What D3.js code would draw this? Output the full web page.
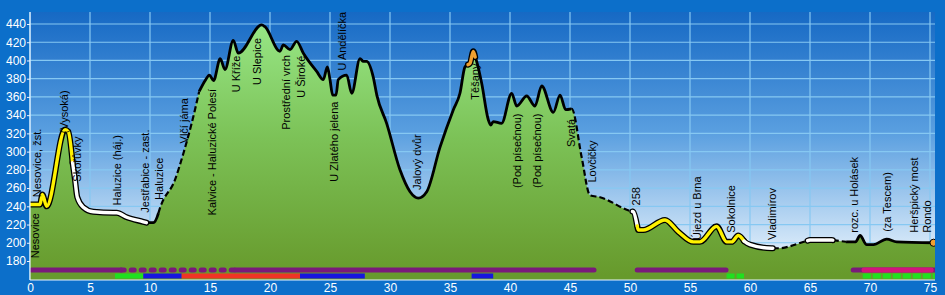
<!DOCTYPE html>
<html>
<head>
<meta charset="utf-8">
<script src="https://cdn.jsdelivr.net/npm/d3@7"></script>
<style>
body{margin:0;background:#0c6fca;overflow:hidden;}
svg{display:block;font-family:"Liberation Sans",Arial,sans-serif;}
</style>
</head>
<body>
<div id="profile"></div>
<script>
// route profile, km / metres
var km   = [0,0.83,1.03,1.39,2.92,3.19,3.75,3.94,4.44,5.28,6.94,7.22,8.06,9.44,9.72,10.28,10.69,10.83,12.08,12.78,13.47,14.1,14.6,14.95,15.3,15.85,16.25,16.94,17.36,19.31,19.58,20.83,21.11,21.67,22.22,22.78,23.89,24.44,24.78,25.0,25.22,25.5,25.69,26.39,26.81,27.5,27.78,28.06,28.6,28.9,29.72,30.83,31.67,32.36,33.06,34.17,35.28,35.83,36.25,36.67,36.94,37.22,37.64,38.19,38.39,38.6,39.3,40.14,40.56,41.39,42.08,42.64,43.61,44.17,44.64,45.14,45.97,46.67,47.5,50.0,50.28,50.69,51.1,52.92,54.03,55.28,55.83,57.22,58.06,58.47,59.03,59.58,60.0,61.8,62.36,64.72,65.0,66.8,68.06,68.8,69.17,69.72,70.28,71.39,72.22,75.3];
var elev = [242,242,253,240,324,322,269,250,239,234,233,233,228,223,222,222,232,238,269,298,331,366,378,384,378,402,390,422,408,439,437,410,417,412,421,408,388,379,393,379,362,362,379,384,364,402,399,399,382,362,331,280,256,249,256,305,346,364,393,397,410,399,375,335,329,333,331,364,350,361,350,372,343,362,346,347,294,252,250,235,234,214,214,225,212,201,201,218,201,201,208,201,198,194,194,202,203,203,201,201,208,198,198,204,201,200];

// how each stretch of the line is marked
var segFrom = [0,3.55,9.7,10.7,14.1,36.5,37.1,45.1,50.2,50.6,59.5,61.9,64.8,66.9,68.0];
var segTo   = [3.55,9.7,10.7,14.1,36.5,37.1,45.1,50.2,50.6,59.5,61.9,64.8,66.9,68.0,75.3];
var segType = ["yellow","white","solid","dash","solid","orange","solid","dash","white","yellow","white","dash","white","dash","solid"];

// place names
var names = ["Nesovice","Nesovice, žst.","(Vysoká)","Skořůvky","Haluzice (háj.)","Jestřabice - zast.","Haluzice","Vlčí jáma","Kalvice - Haluzické Polesí","U Kříže","U Slepice","Prostřední vrch","U Široké","U Zlatého jelena","U Andělíčka","Jalový dvůr","Těšany","(Pod písečnou)","(Pod písečnou)","Svatá","Lovčičky","258","Újezd u Brna","Sokolnice","Vladimírov","rozc. u Holásek","(za Tescem)","Heršpický most","Rondo"];
var nameKm   = [0.42,0.6,2.83,3.92,7.25,9.58,10.75,12.83,15.2,17.17,18.96,21.33,22.58,25.33,26.04,32.29,37.08,40.58,42.25,45.08,46.83,50.54,55.58,58.42,61.83,68.67,71.42,73.67,74.79];
var nameElev = [183,250,320,267,241,233,247,309,230,365,373,324,359,267,389,258,357,260,260,305,266,241,203,211,203,211,212,211,211];

// marked trails under the profile
var trailFrom = [0.15,7.6,17.1,50.6,68.6,69.5];
var trailTo   = [7.6,17.1,47.0,58.0,75.4,75.1];
var trailKind = ["P","P","P","P","P","M"];
var trailDot  = [false,true,false,false,false,false];
var pathFrom = [7.08,9.44,12.64,22.5,36.8,58.05,69.4];
var pathTo   = [9.44,12.64,22.5,27.9,38.6,59.5,75.4];
var pathKind = ["G","B","R","B","B","G","G"];
var pathDot  = [false,false,false,false,false,true,true];

var yTicks = [180,200,220,240,260,280,300,320,340,360,380,400,420,440];
var xTicks = [0,5,10,15,20,25,30,35,40,45,50,55,60,65,70,75];

var w = 945, h = 295;
var plot = {left:30, right:935, top:12, bottom:280};
var kindColor = {P:"#7a1a7a", M:"#d4137c", G:"#1fe01f", B:"#1616e0", R:"#f03424"};

var x = d3.scaleLinear().domain([0,75]).range([30,930]);
var y = d3.scaleLinear().domain([180,440]).range([261,24]);

var pts = km.map(function(d,i){ return [d, elev[i]]; });
var bis = d3.bisector(function(d){ return d[0]; }).left;
function at(t){
  var i = bis(pts, t);
  if (i <= 0) return pts[0][1];
  if (i >= pts.length) return pts[pts.length-1][1];
  var a = pts[i-1], b = pts[i];
  return a[1] + (b[1]-a[1])*(t-a[0])/(b[0]-a[0]);
}
function part(a,b){
  var out = [[a, at(a)]];
  pts.forEach(function(p){ if (p[0] > a && p[0] < b) out.push(p); });
  out.push([b, at(b)]);
  return out;
}

var svg = d3.select("#profile").append("svg").attr("width", w).attr("height", h);
var defs = svg.append("defs");

var sky = defs.append("linearGradient").attr("id","sky").attr("gradientUnits","userSpaceOnUse")
  .attr("x1",0).attr("x2",0).attr("y1",plot.top).attr("y2",plot.bottom);
sky.append("stop").attr("offset","0").attr("stop-color","#1669c4");
sky.append("stop").attr("offset","0.45").attr("stop-color","#5a9fe0");
sky.append("stop").attr("offset","0.85").attr("stop-color","#cfe4f7");
sky.append("stop").attr("offset","1").attr("stop-color","#e8f3fc");

var grass = defs.append("linearGradient").attr("id","grass").attr("gradientUnits","userSpaceOnUse")
  .attr("x1",0).attr("x2",0).attr("y1",25).attr("y2",275);
grass.append("stop").attr("offset","0").attr("stop-color","#97e685");
grass.append("stop").attr("offset","0.45").attr("stop-color","#7cc257");
grass.append("stop").attr("offset","1").attr("stop-color","#679a2c");

defs.append("clipPath").attr("id","clip").append("rect")
  .attr("x",plot.left).attr("y",plot.top).attr("width",plot.right-plot.left).attr("height",plot.bottom-plot.top);

svg.append("rect").attr("width",w).attr("height",h).attr("fill","#0c6fca");
svg.append("rect").attr("x",plot.left).attr("y",plot.top)
  .attr("width",plot.right-plot.left).attr("height",plot.bottom-plot.top).attr("fill","url(#sky)");

// grid
var grid = svg.append("g").attr("stroke","#86c8f2").attr("stroke-width",1.2);
grid.selectAll("line.v").data(xTicks).enter().append("line")
  .attr("x1",function(d){ return x(d); }).attr("x2",function(d){ return x(d); })
  .attr("y1",plot.top).attr("y2",plot.bottom);
grid.selectAll("line.h").data(yTicks).enter().append("line")
  .attr("x1",plot.left).attr("x2",plot.right)
  .attr("y1",function(d){ return y(d); }).attr("y2",function(d){ return y(d); });

var g = svg.append("g").attr("clip-path","url(#clip)");

var curve = d3.curveMonotoneX;
var area = d3.area().curve(curve).x(function(d){ return x(d[0]); }).y0(plot.bottom).y1(function(d){ return y(d[1]); });
var ground = pts.slice();
ground.push([75.5, 200]);
g.append("path").datum(ground).attr("d", area).attr("fill","url(#grass)");

// trail bars
function bars(from, to, kind, dot, yy, cap){
  g.append("g").selectAll("line").data(from).enter().append("line")
    .attr("x1",function(d){ return x(d); })
    .attr("x2",function(d,i){ return x(to[i]); })
    .attr("y1",yy).attr("y2",yy)
    .attr("stroke",function(d,i){ return kindColor[kind[i]]; })
    .attr("stroke-width",5)
    .attr("stroke-linecap",cap)
    .attr("stroke-dasharray",function(d,i){ return dot[i] ? (cap=="round" ? "3,7" : "8,2") : null; });
}
bars(trailFrom, trailTo, trailKind, trailDot, 270, "round");
bars(pathFrom, pathTo, pathKind, pathDot, 276, "butt");

var line = d3.line().curve(curve).x(function(d){ return x(d[0]); }).y(function(d){ return y(d[1]); });
var fillCol = {yellow:"#fff200", white:"#ffffff", orange:"#f0a030"};

segType.forEach(function(t,i){
  var d = part(segFrom[i], segTo[i]);
  if (t == "solid" || t == "dash") {
    g.append("path").datum(d).attr("d",line).attr("fill","none")
      .attr("stroke","#000").attr("stroke-width", t=="dash" ? 2.2 : 2.8)
      .attr("stroke-linejoin","round")
      .attr("stroke-dasharray", t=="dash" ? "6,3" : null);
  } else {
    g.append("path").datum(d).attr("d",line).attr("fill","none")
      .attr("stroke","#000").attr("stroke-width",6)
      .attr("stroke-linejoin","round").attr("stroke-linecap","round");
  }
});
segType.forEach(function(t,i){
  if (!fillCol[t]) return;
  g.append("path").datum(part(segFrom[i], segTo[i])).attr("d",line).attr("fill","none")
    .attr("stroke",fillCol[t]).attr("stroke-width",3.4)
    .attr("stroke-linejoin","round").attr("stroke-linecap","round");
});

g.append("circle").attr("cx",x(75.3)).attr("cy",y(200)).attr("r",3.6)
  .attr("fill","#f0a030").attr("stroke","#000").attr("stroke-width",1);

// place labels
svg.append("g").selectAll("text").data(names).enter().append("text")
  .attr("transform",function(d,i){ return "translate(" + x(nameKm[i]) + "," + y(nameElev[i]) + ") rotate(-90)"; })
  .attr("dy","0.35em")
  .attr("font-size",11)
  .attr("fill","#000")
  .text(function(d){ return d; });

// axes
var yAxis = d3.axisLeft(y).tickValues(yTicks).tickSize(3).tickPadding(1);
var xAxis = d3.axisBottom(x).tickValues(xTicks).tickSize(0).tickPadding(3);

var ya = svg.append("g").attr("transform","translate(" + plot.left + ",0)").call(yAxis);
var xa = svg.append("g").attr("transform","translate(0," + plot.bottom + ")").call(xAxis);
[ya, xa].forEach(function(a){
  a.select(".domain").remove();
  a.selectAll("line").attr("stroke","#e8f4ff");
  a.selectAll("text").attr("fill","#fff").attr("font-size",12).attr("font-family","Liberation Sans, Arial, sans-serif");
});
svg.append("line").attr("x1",plot.left).attr("x2",plot.left).attr("y1",plot.top).attr("y2",plot.bottom)
  .attr("stroke","#e8f4ff").attr("stroke-width",1.2);
svg.append("line").attr("x1",plot.left).attr("x2",plot.right).attr("y1",plot.bottom).attr("y2",plot.bottom)
  .attr("stroke","#e8f4ff").attr("stroke-width",1.2);
</script>
</body>
</html>
